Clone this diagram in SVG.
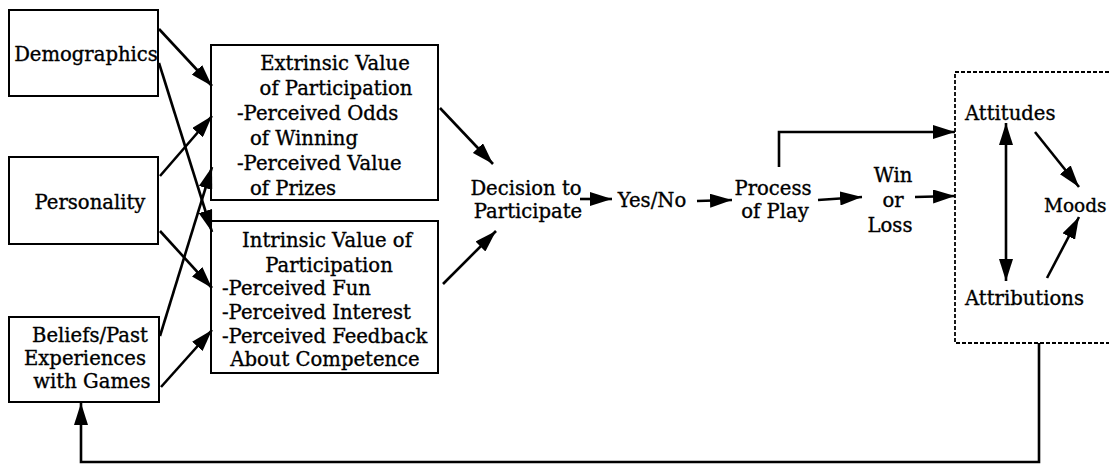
<svg xmlns="http://www.w3.org/2000/svg" width="1109" height="464" viewBox="0 0 1109 464">
<style>
.box{fill:#fff;stroke:#000;stroke-width:2}
.dbox{fill:#fff;stroke:#000;stroke-width:1.8;stroke-dasharray:4 2}
text{font-family:"DejaVu Serif","Liberation Serif",serif;font-size:19.6px;fill:#000;stroke:#000;stroke-width:0.35}
.m{text-anchor:middle}
.c{fill:none;stroke:#000;stroke-width:2.6;marker-end:url(#ah)}
</style>
<defs>
<marker id="ah" viewBox="0 0 22 14" refX="22" refY="7" markerWidth="22" markerHeight="14" markerUnits="userSpaceOnUse" orient="auto-start-reverse">
<path d="M0,0 L22,7 L0,14 Z" fill="#000"/>
</marker>
</defs>
<rect width="1109" height="464" fill="#fff"/>
<g id="demographics"><rect class="box" x="9" y="10" width="149" height="86"/><text class="m" x="86" y="61">Demographics</text></g>
<g id="personality"><rect class="box" x="9" y="157" width="149" height="87"/><text class="m" x="90" y="209">Personality</text></g>
<g id="beliefs"><rect class="box" x="9" y="317" width="150" height="85"/><text class="m" x="90" y="342">Beliefs/Past</text><text class="m" x="85" y="365">Experiences</text><text class="m" x="92" y="388">with Games</text></g>
<g id="extrinsic"><rect class="box" x="211" y="45" width="227" height="155"/>
<text class="m" x="335" y="70">Extrinsic Value</text>
<text class="m" x="336" y="95">of Participation</text>
<text x="237" y="120">-Perceived Odds</text>
<text x="250" y="145">of Winning</text>
<text x="237" y="170">-Perceived Value</text>
<text x="250" y="195">of Prizes</text></g>
<g id="intrinsic"><rect class="box" x="211" y="221" width="227" height="152"/>
<text class="m" x="327" y="247">Intrinsic Value of</text>
<text class="m" x="329" y="272">Participation</text>
<text x="222" y="295">-Perceived Fun</text>
<text x="222" y="319">-Perceived Interest</text>
<text x="222" y="343">-Perceived Feedback</text>
<text class="m" x="325" y="366">About Competence</text></g>
<g id="decision"><text class="m" x="526" y="195">Decision to</text><text class="m" x="528" y="218">Participate</text></g>
<g id="yesno"><text class="m" x="652" y="207">Yes/No</text></g>
<g id="process"><text class="m" x="773" y="195">Process</text><text class="m" x="775" y="218">of Play</text></g>
<g id="winloss"><text class="m" x="893" y="182">Win</text><text class="m" x="893" y="207">or</text><text class="m" x="890" y="232">Loss</text></g>
<g id="outcomes"><rect class="dbox" x="955" y="72" width="170" height="271"/>
<text x="965" y="120">Attitudes</text>
<text x="1044" y="212" style="font-size:18.5px">Moods</text>
<text x="965" y="305">Attributions</text></g>
<g id="connectors">
<path class="c" d="M159,29 L212,86"/>
<path class="c" d="M159,63 L212,232"/>
<path class="c" d="M160,176 L212,116"/>
<path class="c" d="M160,231 L212,288"/>
<path class="c" d="M160,336 L212,167"/>
<path class="c" d="M161,387 L212,330"/>
<path class="c" d="M440,108 L493,164"/>
<path class="c" d="M443,284 L496,231"/>
<path class="c" d="M580,199 L612,199"/>
<path class="c" d="M697,201 L732,200"/>
<path class="c" d="M779,167 L779,132 L955,132"/>
<path class="c" d="M818,200 L862,197"/>
<path class="c" d="M915,197 L955,196"/>
<path class="c" d="M1006,123 L1006,281" marker-start="url(#ah)"/>
<path class="c" d="M1035,132 L1079,187"/>
<path class="c" d="M1047,278 L1079,217"/>
<path class="c" d="M1039,343 L1039,462 L81,462 L81,403"/>
</g>
</svg>
